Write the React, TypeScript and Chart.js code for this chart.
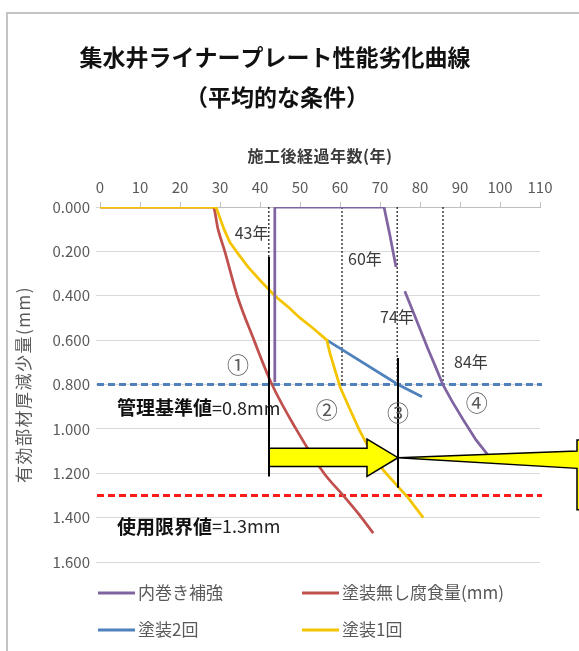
import React, { useEffect, useRef } from 'react';
import { Chart, registerables } from 'chart.js';

Chart.register(...registerables);

const FONT = '"Noto Sans CJK JP", "Noto Sans", sans-serif';

// ---- texts ----
const titleLines = ['集水井ライナープレート性能劣化曲線', '（平均的な条件）'];
const xAxisTitle = '施工後経過年数(年)';
const yAxisTitle = '有効部材厚減少量(mm)';

// ---- axes ----
const xMin = 0;
const xMax = 110;
const xStep = 10;
const yMin = 0;
const yMax = 1.6;
const yStep = 0.2;

// ---- series: 内巻き補強 (purple) ----
const liningYears = [43.7, 43.7, 71, 72.5, 74, 75, 76.2, 78, 80, 82, 84, 85.7, 88, 91, 94, 97.5];
const liningLoss = [0.79, 0, 0, 0.13, 0.27, null, 0.38, 0.46, 0.55, 0.64, 0.725, 0.8, 0.875, 0.965, 1.05, 1.13];

// ---- series: 塗装1回 (yellow) ----
const coat1Years = [0, 29, 30, 31, 32.5, 34.5, 37, 40, 43.7, 47, 50, 53.5, 56.7, 57.5, 60, 62.2, 64.7, 67.6, 71, 74, 77, 80.8];
const coat1Loss = [0, 0, 0.05, 0.1, 0.16, 0.21, 0.27, 0.33, 0.4, 0.45, 0.5, 0.55, 0.6, 0.66, 0.81, 0.9, 1.0, 1.1, 1.19, 1.25, 1.31, 1.4];

// ---- series: 塗装2回 (blue) ----
const coat2Years = [56.7, 74.5, 80.5];
const coat2Loss = [0.6, 0.8, 0.855];

// ---- series: 塗装無し腐食量(mm) (red) ----
const bareYears = [0, 28.3, 29.5, 31.2, 34.3, 38.5, 43, 49, 56, 60.8, 64.5, 68.3];
const bareLoss = [0, 0, 0.1, 0.2, 0.4, 0.6, 0.8, 1.0, 1.2, 1.3, 1.38, 1.47];

// ---- reference values ----
const managementLimit = 0.8; // 管理基準値
const serviceLimit = 1.3; // 使用限界値
const limitSpan = [-0.75, 110.5];

// ---- reached years (vertical dotted lines) ----
const reachedYears = [42.2, 60.5, 74.3, 85.75];
const reachedLabels = ['43年', '60年', '74年', '84年'];
const caseMarks = ['①', '②', '③', '④'];

const legendOrder = ['内巻き補強', '塗装無し腐食量(mm)', '塗装2回', '塗装1回'];

const toPoints = (xs: number[], ys: (number | null)[]) => xs.map((x, i) => ({ x, y: ys[i] }));

export default function App() {
  const canvasRef = useRef<HTMLCanvasElement | null>(null);

  useEffect(() => {
    let chart: Chart | null = null;
    let cancelled = false;

    const overlay = {
      id: 'overlay',
      afterDatasetsDraw(c: any) {
        const ctx: CanvasRenderingContext2D = c.ctx;
        const xs = c.scales.x;
        const ys = c.scales.y;
        const px = (v: number) => xs.getPixelForValue(v);
        const py = (v: number) => ys.getPixelForValue(v);
        ctx.save();

        // callout (yellow, pointing at arrow tip)
        const tipX = px(74.5);
        const tipY = py(1.13);
        const boxL = px(119.25);
        ctx.beginPath();
        ctx.moveTo(boxL, py(1.05));
        ctx.lineTo(boxL + 40, py(1.05));
        ctx.lineTo(boxL + 40, py(1.365));
        ctx.lineTo(boxL, py(1.365));
        ctx.lineTo(boxL, py(1.178));
        ctx.lineTo(tipX, tipY);
        ctx.lineTo(boxL, py(1.1));
        ctx.closePath();
        ctx.fillStyle = '#ffff00';
        ctx.fill();
        ctx.strokeStyle = '#000';
        ctx.lineWidth = 1.5;
        ctx.stroke();

        // block arrow
        const aL = px(42.25);
        const aH = px(66.75);
        ctx.beginPath();
        ctx.moveTo(aL, py(1.087));
        ctx.lineTo(aH, py(1.087));
        ctx.lineTo(aH, py(1.046));
        ctx.lineTo(tipX, tipY);
        ctx.lineTo(aH, py(1.214));
        ctx.lineTo(aH, py(1.17));
        ctx.lineTo(aL, py(1.17));
        ctx.closePath();
        ctx.fillStyle = '#ffff00';
        ctx.fill();
        ctx.strokeStyle = '#000';
        ctx.lineWidth = 1.5;
        ctx.stroke();

        // solid black marker lines
        ctx.strokeStyle = '#000';
        ctx.lineWidth = 2;
        ctx.beginPath();
        ctx.moveTo(px(42.25), py(0.225));
        ctx.lineTo(px(42.25), py(1.215));
        ctx.moveTo(px(74.5), py(0.68));
        ctx.lineTo(px(74.5), py(1.265));
        ctx.stroke();

        // year labels
        ctx.fillStyle = '#3a3a3a';
        ctx.font = `16px ${FONT}`;
        ctx.textBaseline = 'middle';
        const yl = [
          { x: 42.1, y: 0.115, a: 'right' },
          { x: 62, y: 0.235, a: 'left' },
          { x: 70, y: 0.495, a: 'left' },
          { x: 88.5, y: 0.7, a: 'left' },
        ];
        reachedLabels.forEach((t, i) => {
          ctx.textAlign = yl[i].a as CanvasTextAlign;
          ctx.fillText(t, px(yl[i].x), py(yl[i].y));
        });

        // case marks
        ctx.fillStyle = '#5a5a5a';
        ctx.font = `22px ${FONT}`;
        ctx.textAlign = 'center';
        const cm = [
          { x: 34.5, y: 0.71 },
          { x: 56.7, y: 0.915 },
          { x: 74.5, y: 0.925 },
          { x: 94.2, y: 0.88 },
        ];
        caseMarks.forEach((t, i) => ctx.fillText(t, px(cm[i].x), py(cm[i].y)));

        // limit labels
        const drawLimit = (name: string, val: string, x: number, y: number) => {
          ctx.textAlign = 'left';
          ctx.fillStyle = '#111';
          ctx.font = `bold 19px ${FONT}`;
          ctx.fillText(name, x, y);
          const w = ctx.measureText(name).width;
          ctx.font = `18px ${FONT}`;
          ctx.fillStyle = '#222';
          ctx.fillText(val, x + w, y);
        };
        drawLimit('管理基準値', `=${managementLimit}mm`, 117, py(0.905));
        drawLimit('使用限界値', `=${serviceLimit}mm`, 117, py(1.44));

        ctx.restore();
      },
      afterDraw(c: any) {
        const ctx: CanvasRenderingContext2D = c.ctx;
        const area = c.chartArea;
        ctx.save();
        ctx.textAlign = 'center';
        ctx.textBaseline = 'middle';
        // titles
        ctx.fillStyle = '#111';
        ctx.font = `bold 23px ${FONT}`;
        ctx.fillText(titleLines[0], 275, 57);
        ctx.fillText(titleLines[1], 277, 97);
        // x axis title
        ctx.fillStyle = '#3a3a3a';
        ctx.font = `bold 16px ${FONT}`;
        (ctx as any).letterSpacing = '0.5px';
        ctx.fillText(xAxisTitle, (area.left + area.right) / 2, 156);
        (ctx as any).letterSpacing = '0px';
        // y axis title
        ctx.save();
        ctx.translate(24, (area.top + area.bottom) / 2);
        ctx.rotate(-Math.PI / 2);
        ctx.fillStyle = '#595959';
        ctx.font = `17px ${FONT}`;
        (ctx as any).letterSpacing = '1.5px';
        ctx.fillText(yAxisTitle, 0, 0);
        (ctx as any).letterSpacing = '0px';
        ctx.restore();

        // legend
        const pos = [
          { x: 98, y: 593 },
          { x: 302, y: 593 },
          { x: 98, y: 630 },
          { x: 302, y: 630 },
        ];
        ctx.font = `17px ${FONT}`;
        ctx.textAlign = 'left';
        legendOrder.forEach((label, i) => {
          const ds = c.data.datasets.find((d: any) => d.label === label);
          if (!ds) return;
          ctx.strokeStyle = ds.borderColor;
          ctx.lineWidth = 3;
          ctx.beginPath();
          ctx.moveTo(pos[i].x, pos[i].y);
          ctx.lineTo(pos[i].x + 37, pos[i].y);
          ctx.stroke();
          ctx.fillStyle = '#595959';
          ctx.fillText(label, pos[i].x + 40, pos[i].y);
        });
        ctx.restore();
      },
    };

    const build = () => {
      if (cancelled || !canvasRef.current) return;
      const dotted = (x: number) => ({
        label: `reach-${x}`,
        data: toPoints([x, x], [0, managementLimit]),
        borderColor: '#222',
        borderWidth: 1.3,
        borderDash: [2, 2],
        tension: 0,
      });
      chart = new Chart(canvasRef.current, {
        type: 'line',
        data: {
          datasets: [
            {
              label: '内巻き補強',
              data: toPoints(liningYears, liningLoss),
              borderColor: '#8064a2',
              borderWidth: 2.75,
              tension: 0,
              spanGaps: false,
            },
            {
              label: '塗装1回',
              data: toPoints(coat1Years, coat1Loss),
              borderColor: '#f5c400',
              borderWidth: 2.75,
              tension: 0,
            },
            {
              label: '塗装2回',
              data: toPoints(coat2Years, coat2Loss),
              borderColor: '#4f81bd',
              borderWidth: 2.75,
              tension: 0,
            },
            {
              label: '塗装無し腐食量(mm)',
              data: toPoints(bareYears, bareLoss),
              borderColor: '#c0504d',
              borderWidth: 2.75,
              cubicInterpolationMode: 'monotone',
            },
            ...reachedYears.map(dotted),
            {
              label: '管理基準値',
              data: toPoints(limitSpan, [managementLimit, managementLimit]),
              borderColor: '#4f81bd',
              borderWidth: 3,
              borderDash: [7, 4],
              clip: false,
            },
            {
              label: '使用限界値',
              data: toPoints(limitSpan, [serviceLimit, serviceLimit]),
              borderColor: '#ff1a1a',
              borderWidth: 3,
              borderDash: [7, 4],
              clip: false,
            },
          ] as any,
        },
        options: {
          animation: false,
          responsive: false,
          maintainAspectRatio: false,
          devicePixelRatio: 1,
          layout: { padding: { left: 0, right: 39, top: 0, bottom: 89 } },
          elements: { point: { radius: 0, hoverRadius: 0 } },
          plugins: {
            legend: { display: false },
            tooltip: { enabled: false },
            title: { display: false },
          },
          scales: {
            x: {
              type: 'linear',
              position: 'top',
              min: xMin,
              max: xMax,
              ticks: {
                stepSize: xStep,
                color: '#595959',
                font: { family: FONT, size: 15 },
                padding: 6,
                maxRotation: 0,
              },
              grid: {
                drawOnChartArea: false,
                drawTicks: true,
                tickLength: 5,
                color: '#bfbfbf',
              },
              border: { display: true, color: '#bfbfbf', width: 1 },
              afterFit: (s: any) => {
                s.height = 207;
              },
            },
            y: {
              type: 'linear',
              reverse: true,
              min: yMin,
              max: yMax,
              ticks: {
                stepSize: yStep,
                color: '#595959',
                font: { family: FONT, size: 15 },
                padding: 6,
                callback: (v: any) => Number(v).toFixed(3),
              },
              grid: { color: '#d9d9d9', tickLength: 4, lineWidth: 1 },
              border: { display: false },
              afterFit: (s: any) => {
                s.width = 100;
              },
            },
          },
        } as any,
        plugins: [overlay],
      });
    };

    const fontsApi = (document as any).fonts;
    if (fontsApi && fontsApi.load) {
      Promise.all([
        fontsApi.load(`16px "Noto Sans CJK JP"`),
        fontsApi.load(`bold 16px "Noto Sans CJK JP"`),
      ])
        .catch(() => undefined)
        .then(build);
    } else {
      build();
    }

    return () => {
      cancelled = true;
      if (chart) chart.destroy();
    };
  }, []);

  return (
    <div style={{ position: 'fixed', left: 0, top: 0, width: 579, height: 651, overflow: 'hidden', background: '#fff' }}>
      <div
        style={{
          position: 'absolute',
          left: 6,
          top: 12,
          width: 700,
          height: 700,
          borderTop: '2px solid #c4c4c4',
          borderLeft: '2px solid #c4c4c4',
        }}
      />
      <canvas ref={canvasRef} width={579} height={651} style={{ position: 'absolute', left: 0, top: 0, display: 'block' }} />
    </div>
  );
}
